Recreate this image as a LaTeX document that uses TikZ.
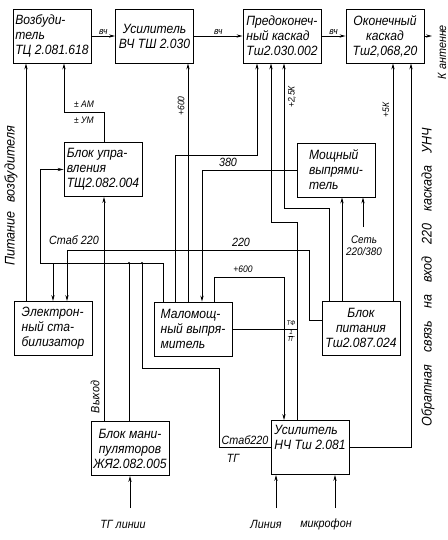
\documentclass[tikz,border=0pt]{standalone}
\usepackage{fontspec}
\setmainfont{Liberation Sans}[FakeStretch=0.9]
\usetikzlibrary{arrows.meta}

\begin{document}
\begin{tikzpicture}[x=1bp, y=-1bp, line width=0.8bp,
  every node/.style = {font=\itshape\fontsize{13.5}{15}\selectfont},
  block/.style = {draw, rectangle, minimum width=78bp, minimum height=54bp,
    align=left, inner sep=1.5bp},
  lbl/.style = {inner sep=1bp, font=\itshape\fontsize{12}{13}\selectfont},
  small/.style = {inner sep=1bp, font=\itshape\fontsize{9.5}{10}\selectfont},
  tiny/.style = {inner sep=0.5bp, font=\itshape\fontsize{7}{7}\selectfont},
  wide/.style = {font=\itshape\fontsize{14}{15}\selectfont,
    execute at begin node={\spaceskip=#1 plus 2bp\relax}},
  wide/.default = 9bp,
  wire/.style = {-{Stealth[length=6bp,width=3.2bp]}},
  dot/.style = {circle, fill, inner sep=0pt, minimum size=2.4bp}]
  \useasboundingbox (0,0) rectangle (448,540);

  % blocks
  \node[block] (vozb) at (52,36) {Возбуди-\\тель\\ТЦ 2.081.618};
  \node[block, align=center] (usvch) at (154.5,36) {Усилитель\\ВЧ ТШ 2.030};
  \node[block] (predok) at (282,36) {Предоконеч-\\ный каскад\\Тш2.030.002};
  \node[block, align=center] (okon) at (385,36) {Оконечный\\каскад\\Тш2,068,20};
  \node[block] (upr) at (103,169.5) {Блок упра-\\вления\\ТЩ2.082.004};
  \node[block] (mosh) at (336,170) {Мощный\\выпрями-\\тель};
  \node[block] (elstab) at (53,328.5) {Электрон-\\ный ста-\\билизатор};
  \node[block] (malom) at (193,329) {Маломощ-\\ный выпря-\\митель};
  \node[block, align=center] (pit) at (361,328) {Блок\\питания\\Тш2.087.024};
  \node[block, align=center] (manip) at (130,448.5) {Блок мани-\\пуляторов\\ЖЯ2.082.005};
  \node[block] (usnch) at (310,447.5) {Усилитель\\НЧ Тш 2.081\\\strut};

  % high frequency chain
  \draw[wire] (vozb.east) -- node[small, above] (l-vch1) {вч} (usvch.west);
  \draw[wire] (usvch.east) -- node[small, above] (l-vch2) {вч} (predok.west);
  \draw[wire] (predok.east) -- node[small, above] (l-vch3) {вч} (okon.west);
  \coordinate (ant) at (432,36);
  \draw[wire] (okon.east) -- (ant);
  \node[lbl, rotate=90] (l-ant) at (442,52) {К антенне};

  % exciter supply and control
  \draw[wire] (elstab.north -| 26,0) -- (vozb.south -| 26,0);
  \node[wide, rotate=90] (l-pitv) at (11,196) {Питание возбудителя};
  \draw[wire] (upr.north -| 104,0) |- (64,112) -- (vozb.south -| 64,0);
  \node[small] (l-am) at (84,104) {± АМ};
  \node[small] (l-um) at (84,120) {± УМ};

  % stab 220
  \draw[wire] (malom.north -| 163,0) |- (40,263) |- (upr.west);
  \draw[wire] (53,263) -- (elstab.north -| 53,0);
  \draw (129,263) -- (manip.north -| 129,0);
  \draw (142,263) |- (219,368) |- (usnch.west);
  \node[dot] (d1) at (129,263) {};
  \node[dot] (d2) at (142,263) {};
  \node[lbl] (l-stab1) at (74,240) {Стаб 220};
  \node[lbl] (l-stab2) at (245,440) {Стаб220};
  \node[lbl] (l-tg) at (233,458) {ТГ};

  % 220 from power block
  \draw[wire] (pit.west |- 0,320) -| (309,250) -| (elstab.north -| 67,0);
  \node[lbl] (l-220) at (241,242) {220};

  % low power rectifier outputs
  \draw[wire] (malom.north -| 188,0) -- (usvch.south -| 188,0);
  \node[small, rotate=90] (l-600a) at (181,106) {+600};
  \draw[wire] (malom.north -| 175,0) |- (257,155) -- (predok.south -| 257,0);
  \draw[wire] (mosh.west |- 0,170) -| (malom.north -| 202,0);
  \node[lbl] (l-380) at (228,162) {380};
  \draw[wire] (malom.north -| 214,0) |- (284,277) -- (usnch.north -| 284,0);
  \node[small] (l-600b) at (243,269) {+600};
  \draw[wire] (usnch.north -| 297,0) |- (271,222) -- (predok.south -| 271,0);
  \draw (malom.east) -- (malom.east -| 297,0);
  \node[tiny] (l-tf) at (291,323) {ТФ};
  \node[tiny, align=center] (l-tf2) at (291,336) {\underline{1}\\ТГ};

  % power block outputs
  \draw[wire] (pit.north -| 329,0) |- (284,208) -- (predok.south -| 284,0);
  \node[small, rotate=90] (l-25k) at (292,97) {+2,5К};
  \draw[wire] (pit.north -| 342,0) -- (mosh.south -| 342,0);
  \coordinate (set) at (363,227);
  \draw[wire] (set) -- (mosh.south -| 363,0);
  \node[lbl, align=center, font=\itshape\fontsize{11}{12}\selectfont] (l-set) at (364,246) {Сеть\\220/380};
  \draw[wire] (pit.north -| 393,0) -- (okon.south -| 393,0);
  \node[small, rotate=90] (l-5k) at (386,110) {+5К};

  % feedback
  \draw[wire] (usnch.east) -| (okon.south -| 411,0);
  \node[wide=12bp, rotate=90] (l-obr) at (428,277) {Обратная связь на вход 220 каскада УНЧ};

  % manipulators and inputs
  \draw[wire] (manip.north -| 104,0) -- (upr.south -| 104,0);
  \node[lbl, rotate=90] (l-vyh) at (95,397) {Выход};
  \coordinate (tgin) at (130,508);
  \draw[wire] (tgin) -- (manip.south);
  \node[lbl] (l-tgl) at (123,524) {ТГ линии};
  \coordinate (linin) at (276,508);
  \draw[wire] (linin) -- (usnch.south -| 276,0);
  \node[lbl] (l-lin) at (266,524) {Линия};
  \coordinate (micin) at (335,508);
  \draw[wire] (micin) -- (usnch.south -| 335,0);
  \node[lbl] (l-mic) at (326,524) {микрофон};
\end{tikzpicture}
\end{document}
